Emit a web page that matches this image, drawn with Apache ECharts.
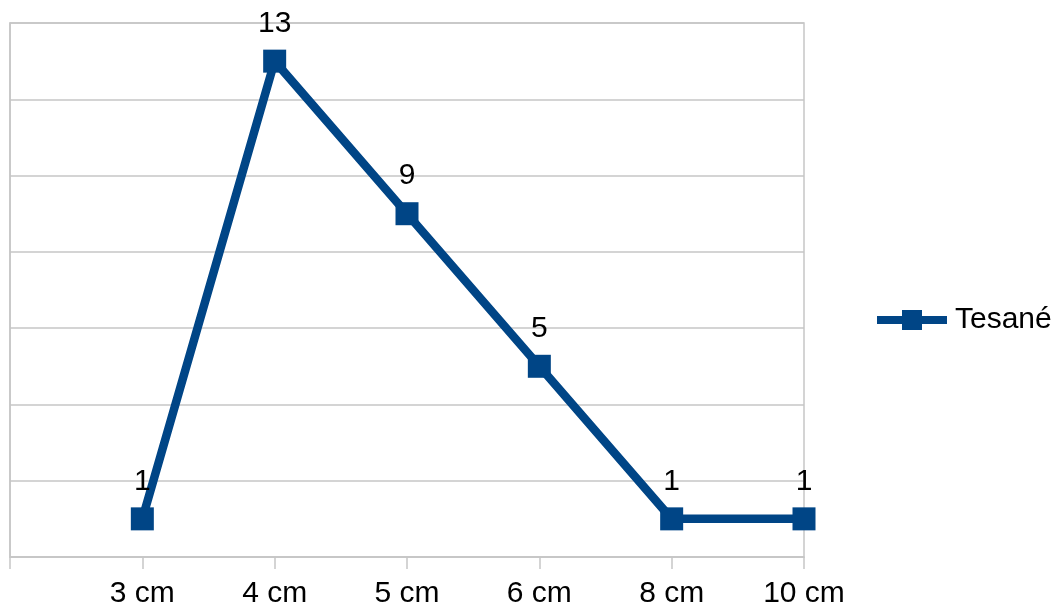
<!DOCTYPE html>
<html><head><meta charset="utf-8">
<script src="https://cdn.jsdelivr.net/npm/echarts@6/dist/echarts.min.js"></script>
<style>html,body{margin:0;padding:0;background:#fff}#c{width:1061px;height:611px}</style>
</head><body><div id="c"></div>
<script>
const categories = ['3 cm', '4 cm', '5 cm', '6 cm', '8 cm', '10 cm'];
const values = [1, 13, 9, 5, 1, 1];
const seriesName = 'Tesané';
const yMin = 0, yMax = 14, yStep = 2;

const chart = echarts.init(document.getElementById('c'));
const grey = '#c6c6c6';
const blue = '#004586';
const font = 'Liberation Sans, Arial, sans-serif';
chart.setOption({
  animation: false,
  textStyle: { fontFamily: font },
  grid: { left: 10, right: 257, top: 23, bottom: 54, show: true, borderColor: grey, borderWidth: 1.5, containLabel: false },
  legend: {
    data: [seriesName], orient: 'vertical', left: 868, top: 300,
    itemWidth: 70, itemHeight: 25, itemGap: 10,
    lineStyle: { width: 8 },
    textStyle: { fontSize: 30, color: '#000', fontFamily: font, padding: [0, 0, 0, 3] }
  },
  xAxis: {
    type: 'category', boundaryGap: false,
    data: [''].concat(categories),
    axisLine: { lineStyle: { color: grey, width: 1.5 } },
    axisTick: { show: true, length: 12, lineStyle: { color: grey, width: 1.5 }, alignWithLabel: true },
    axisLabel: { fontSize: 30, color: '#000', margin: 22 },
    splitLine: { show: false }
  },
  yAxis: {
    type: 'value', min: yMin, max: yMax, interval: yStep,
    axisLine: { show: true, lineStyle: { color: grey, width: 1.5 } },
    axisTick: { show: false }, axisLabel: { show: false },
    splitLine: { lineStyle: { color: grey, width: 1.5 } }
  },
  series: [{
    name: seriesName, type: 'line',
    data: [null].concat(values),
    symbol: 'rect', symbolSize: 23,
    lineStyle: { color: blue, width: 8.5 },
    itemStyle: { color: blue },
    label: { show: true, position: 'top', distance: 11, fontSize: 30, color: '#000' }
  }]
});
</script></body></html>
